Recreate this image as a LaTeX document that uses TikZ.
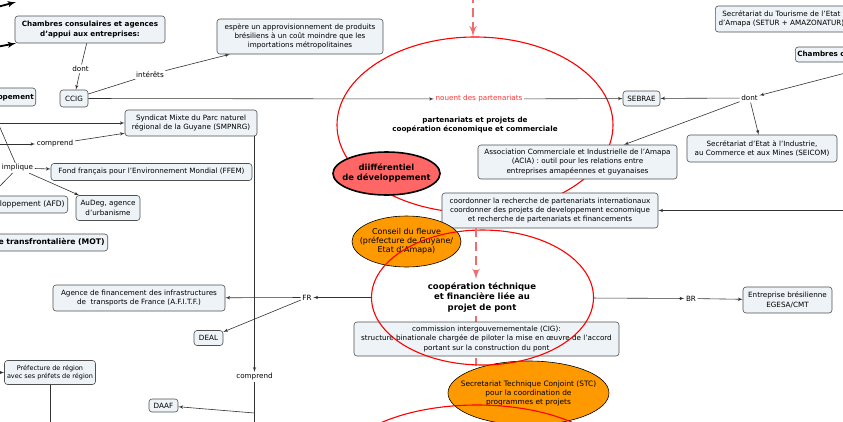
\documentclass[tikz,border=0pt]{standalone}
\usepackage{fontspec}
\setmainfont{DejaVu Sans}
\usetikzlibrary{arrows, shapes.geometric}
\definecolor{boxfill}{RGB}{237,243,246}
\definecolor{boxline}{RGB}{80,80,80}
\definecolor{linkgray}{RGB}{50,50,50}
\definecolor{salmon}{RGB}{255,102,102}
\definecolor{dashred}{RGB}{242,108,108}
\definecolor{orangefill}{RGB}{255,153,0}
\definecolor{redtext}{RGB}{255,51,51}

\begin{document}
\begin{tikzpicture}[x=1pt,y=-1pt]

\tikzset{concept/.style = {shape=rectangle, rounded corners=3pt, draw=boxline, fill=boxfill, line width=0.6pt, align=center, inner xsep=2pt, inner ysep=2pt, font=\fontsize{7.2}{9.2}\selectfont}}
\tikzset{boldconcept/.style = {concept, font=\fontsize{7.2}{9.2}\selectfont\bfseries}}
\tikzset{linker/.style = {inner sep=1.5pt, font=\fontsize{7.2}{9}\selectfont}}
\tikzset{oval/.style = {shape=ellipse, draw, align=center, inner ysep=0pt}}
\tikzset{ring/.style = {shape=ellipse, draw=red, line width=1.1pt}}
\tikzset{edge/.style = {->, > = latex', draw=linkgray, line width=0.6pt}}
\tikzset{plain/.style = {draw=linkgray, line width=0.6pt}}
\tikzset{strong/.style = {->, > = latex', draw=black, line width=1.8pt}}
\tikzset{hint/.style = {->, > = latex', draw=dashred, line width=2.6pt, dash pattern=on 9pt off 5pt}}
\tikzset{hintline/.style = {draw=dashred, line width=2.6pt, dash pattern=on 9pt off 5pt}}

\useasboundingbox (0,0) rectangle (843,421);
\clip (0,0) rectangle (843,421);

%rings and concepts
\node[ring, minimum width=276, minimum height=176] (ring1) at (475,125) {};
\node[font=\fontsize{7.2}{9}\selectfont\bfseries, align=center] (partproj) at (475,125) {partenariats et projets de\\coopération économique et commerciale};
\node[linker, text=redtext] (nouent) at (479,99) {nouent des partenariats};
\node[oval, fill=salmon, line width=1.6pt, inner xsep=-6.5pt, minimum width=107, minimum height=43, font=\fontsize{8.4}{10}\selectfont\bfseries] (diff) at (386.5,173.5) {diifférentiel\\de développement};

\node[boldconcept, minimum width=150, minimum height=27] (chamb) at (90,29.5) {Chambres consulaires et agences\\d'appui aux entreprises:};
\node[concept, minimum width=28, minimum height=17] (ccig) at (74,98.5) {CCIG};
\node[concept, minimum width=166, minimum height=35] (espere) at (300,36.5) {espère un approvisionnement de produits\\brésiliens à un coût moindre que les\\importations métropolitaines};
\node[boldconcept, anchor=east, minimum height=18] (devbox) at (36,97) {développement};
\node[concept, minimum width=132, minimum height=26] (syndicat) at (191,123) {Syndicat Mixte du Parc naturel\\régional de la Guyane (SMPNRG)};
\node[concept, minimum width=201, minimum height=17] (ffem) at (151.5,172) {Fond français pour l'Environnement Mondial (FFEM)};
\node[concept, anchor=east, minimum height=17, inner xsep=3pt, font=\fontsize{7.6}{9.2}\selectfont] (afd) at (68,204.5) {Agence Française de Développement (AFD)};
\node[concept, minimum width=64, minimum height=25] (audeg) at (108,208) {AuDeg, agence\\d'urbanisme};
\node[boldconcept, anchor=east, minimum height=17, inner xsep=3pt, font=\fontsize{7.7}{9.2}\selectfont\bfseries] (mot) at (108,242.5) {Mission opérationnelle transfrontalière (MOT)};
\node[concept, minimum width=172, minimum height=26] (afitf) at (139,298) {Agence de financement des infrastructures\\de~ transports de France (A.F.I.T.F.)};
\node[concept, minimum width=29, minimum height=15] (deal) at (208.5,338) {DEAL};
\node[concept, minimum width=91, minimum height=24, font=\fontsize{6.5}{8.5}\selectfont] (prefect) at (50,372.5) {Préfecture de région\\avec ses préfets de région};
\node[concept, minimum width=29, minimum height=13] (daaf) at (163.5,405.5) {DAAF};

\node[concept, minimum width=37, minimum height=15] (sebrae) at (641.5,98.5) {SEBRAE};
\node[concept, minimum width=199, minimum height=34] (acia) at (577.5,162) {Association Commerciale et Industrielle de l'Amapa\\(ACIA) : outil pour les relations entre\\entreprises amapéennes et guyanaises};
\node[concept, minimum width=150, minimum height=27] (seicom) at (762,148.5) {Secrétariat d'Etat à l'Industrie,\\au Commerce et aux Mines (SEICOM)};
\node[concept, anchor=west, minimum width=132, minimum height=26] (setur) at (715,19) {Secrétariat du Tourisme de l'Etat\\d'Amapa (SETUR + AMAZONATUR)};
\node[boldconcept, anchor=west, minimum height=15] (chambr) at (795,54.5) {Chambres consulaires et agences d'appui aux entreprises:};
\node[concept, minimum width=216, minimum height=35] (coord) at (550,210.5) {coordonner la recherche de partenariats internationaux\\coordonner des projets de developpement economique\\et recherche de partenariats et financements};
\node[concept, minimum width=89, minimum height=26] (entre) at (787.5,300) {Entreprise brésilienne\\EGESA/CMT};

\node[oval, fill=orangefill, line width=0.6pt, inner xsep=-8.5pt, minimum width=109, minimum height=51, font=\fontsize{8}{9}\selectfont] (conseil) at (406.5,241.5) {Conseil du fleuve\\(préfecture de Guyane/\\Etat d'Amapa)};
\node[font=\fontsize{8.5}{10.5}\selectfont\bfseries, align=center] (coop) at (482,297.5) {coopération téchnique\\et financière liée au\\projet de pont};
\node[oval, fill=orangefill, line width=0.6pt, inner xsep=-12pt, minimum width=161, minimum height=64, font=\fontsize{7.4}{9}\selectfont] (stc) at (528.5,393) {Secretariat Technique Conjoint (STC)\\pour la coordination de\\programmes et projets};
\coordinate (axis) at (476,0);
\draw[hintline, shorten >=-5pt] (coop.south -| axis) -- (stc.north -| axis);
\node[concept, minimum width=265, minimum height=34] (cig) at (486.5,339) {commission intergouvernementale (CIG):\\structure binationale chargée de piloter la mise en œuvre de l'accord\\portant sur la construction du pont};
\node[ring, minimum width=222, minimum height=135] (ring2) at (482.5,297.5) {};
\node[ring, minimum width=280, minimum height=130] (ring3) at (477,470) {};

%linking phrases
\node[linker] (dont1) at (80.5,69) {dont};
\node[linker] (interets) at (150,74.5) {intérêts};
\node[linker] (comprend1) at (55,144) {comprend};
\node[linker] (implique) at (17.5,168) {implique};
\node[linker] (comprend2) at (254.5,377) {comprend};
\node[linker] (fr) at (307,297.5) {FR};
\node[linker] (br) at (691,298.5) {BR};
\node[linker] (dont2) at (749.5,98) {dont};

%free ends
\coordinate (tlsrc) at (-25,13);
\coordinate (tltip) at (16,2);
\coordinate (chsrc) at (-20,50);
\coordinate (synsrc) at (-20,123);
\coordinate (cmpsrc) at (-20,144);
\coordinate (impsrc) at (-12,100);
\coordinate (presrc) at (-20,372.5);
\coordinate (prebot) at (50,440);
\coordinate (cmpbot) at (254.5,440);
\coordinate (daafsrc) at (254.5,413);
\coordinate (coordsrc) at (870,210.5);
\coordinate (topsrc) at (473,-20);

%connectors
\draw[strong] (tlsrc) -- (tltip);
\draw[strong] (chsrc) -- (chamb);
\draw[plain] (chamb) -- (dont1);
\draw[edge] (dont1) -- (ccig);
\draw[plain] (ccig) -- (interets);
\draw[edge] (interets) -- (espere);
\draw[edge] (ccig) -- (nouent);
\draw[edge] (nouent) -- (sebrae);
\draw[edge] (synsrc) -- (syndicat);
\draw[edge] (cmpsrc) -- (comprend1);
\draw[edge] (comprend1) -- (syndicat);
\draw[plain] (impsrc) -- (implique);
\draw[edge] (implique) -- (afd);
\draw[edge] (implique) -- (ffem);
\draw[edge] (implique) -- (audeg);
\draw[edge] (comprend2 |- syndicat.south) -- (comprend2);
\draw[plain] (comprend2) -- (cmpbot);
\draw[edge] (daafsrc) -- (daaf);
\draw[edge] (presrc) -- (prefect);
\draw[plain] (prefect) -- (prebot);
\draw[edge] (ring2) -- (fr);
\draw[edge] (fr) -- (afitf);
\draw[edge] (fr) -- (deal);
\draw[edge] (ring2) -- (br);
\draw[edge] (br) -- (entre);
\draw[edge] (chambr) -- (dont2);
\draw[edge] (dont2) -- (sebrae);
\draw[edge] (dont2) -- (acia);
\draw[edge] (dont2) -- (seicom);
\draw[edge] (coordsrc) -- (coord);
\draw[hint] (topsrc) -- (ring1.north -| topsrc);
\draw[hint] (coord.south -| axis) -- (coop.north -| axis);

\end{tikzpicture}
\end{document}
